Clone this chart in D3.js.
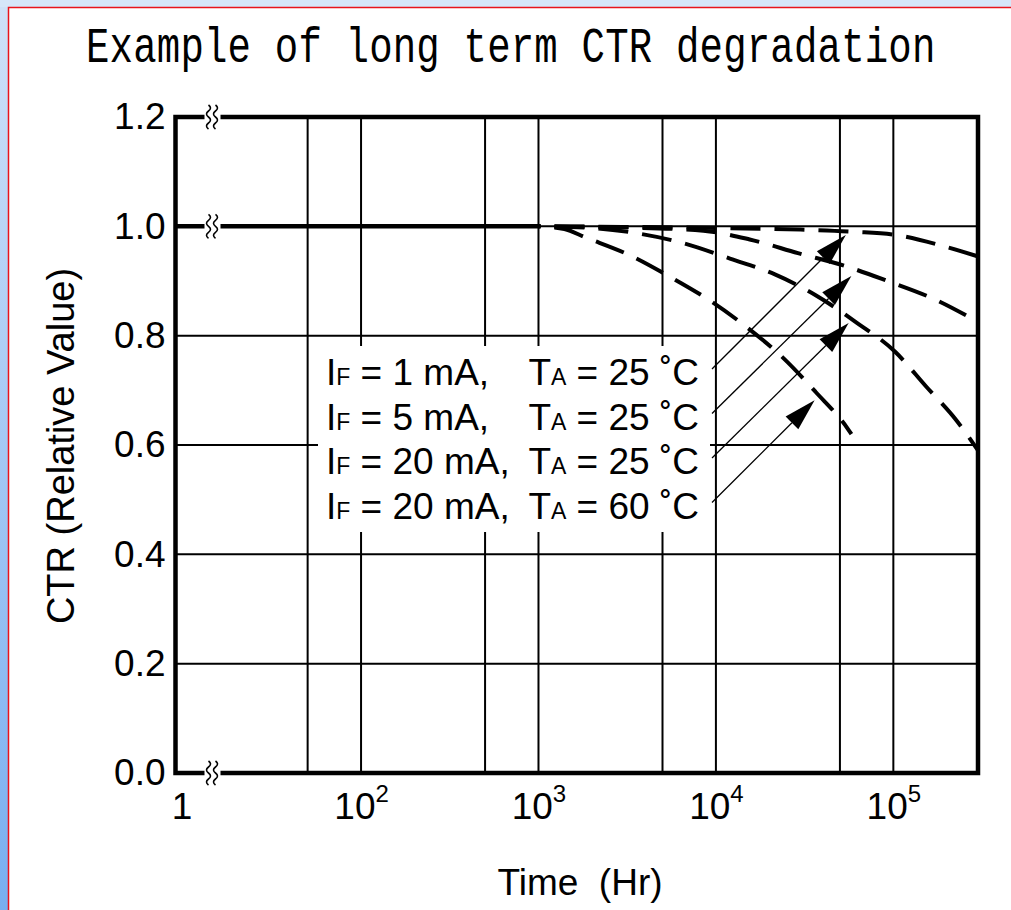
<!DOCTYPE html>
<html lang="en">
<head>
<meta charset="utf-8">
<title>Example of long term CTR degradation</title>
<script src="https://d3js.org/d3.v7.min.js"></script>
<style>
  body { margin: 0; background: #d6e6f9; overflow: hidden; }
  svg { display: block; }
  text { font-family: "Liberation Sans", Arial, sans-serif; fill: #000; }
  text.title { font-family: "Liberation Mono", monospace; }
</style>
</head>
<body>
<script>
// axis ticks and grid
const yTicks = [0, 0.2, 0.4, 0.6, 0.8, 1.0, 1.2]
const xTicks = [1, 1e2, 1e3, 1e4, 1e5]
const xGrid = [50, 1e2, 5e2, 1e3, 5e3, 1e4, 5e4, 1e5]

// no change up to 1000 h
const solidTime = [1, 1000]
const solidCTR = [1.0, 1.0]

// IF = 1 mA, TA = 25 C
const c1Time = [1000, 3000, 1e4, 3e4, 6e4, 1e5, 2e5, 3e5]
const c1CTR = [1.0, 0.999, 0.997, 0.994, 0.99, 0.985, 0.962, 0.945]
// IF = 5 mA, TA = 25 C
const c2Time = [1000, 3000, 8500, 1.55e4, 2.9e4, 5.4e4, 9.1e4, 1.67e5, 3e5]
const c2CTR = [1.0, 0.998, 0.992, 0.976, 0.951, 0.927, 0.901, 0.868, 0.825]
// IF = 20 mA, TA = 25 C
const c3Time = [1000, 2000, 3640, 6600, 1.2e4, 2.15e4, 3.65e4, 6.2e4, 1.02e5, 1.53e5, 2.27e5, 3e5]
const c3CTR = [1.0, 0.997, 0.987, 0.969, 0.941, 0.912, 0.874, 0.824, 0.771, 0.707, 0.645, 0.59]
// IF = 20 mA, TA = 60 C
const c4Time = [1000, 1400, 1830, 3280, 5560, 9380, 1.5e4, 2.4e4, 3.65e4, 5.5e4, 5.8e4]
const c4CTR = [1.0, 0.995, 0.98, 0.947, 0.907, 0.863, 0.815, 0.759, 0.697, 0.631, 0.62]

// legend rows and where their arrows point
const legendCurrent = ["1 mA,", "5 mA,", "20 mA,", "20 mA,"]
const legendTemp = ["25 \u02DAC", "25 \u02DAC", "25 \u02DAC", "60 \u02DAC"]
const arrowTime = [5.4e4, 5.8e4, 5.6e4, 3.6e4]
const arrowCTR = [0.984, 0.909, 0.823, 0.682]

const width = 1011
const height = 910
const plotL = 175.5, plotR = 978, plotT = 117, plotB = 773

const svg = d3.select("body").append("svg")
    .attr("width", width)
    .attr("height", height)

// page frame like the screenshot
const grad = svg.append("defs").append("linearGradient")
    .attr("id", "strip").attr("x1", 0).attr("y1", 0).attr("x2", 0).attr("y2", 1)
grad.append("stop").attr("offset", "0%").attr("stop-color", "#cfe1f8")
grad.append("stop").attr("offset", "100%").attr("stop-color", "#78aef0")
svg.append("rect").attr("width", width).attr("height", height).attr("fill", "#d6e6f9")
svg.append("rect").attr("x", 0).attr("y", 7).attr("width", 8).attr("height", height).attr("fill", "url(#strip)")
svg.append("rect").attr("x", 8).attr("y", 7).attr("width", width).attr("height", height).attr("fill", "#fff")
svg.append("path").attr("d", `M8.5,${height} V7.5 H${width}`)
    .attr("fill", "none").attr("stroke", "#e8141c").attr("stroke-width", 1.5)

// scales: log time axis broken near the origin (label "1" at the left edge)
const x = d3.scaleLog().domain([9, 3e5]).range([plotL, plotR]).clamp(true)
const y = d3.scaleLinear().domain([0, 1.2]).range([plotB, plotT])

// title
svg.append("text")
    .attr("class", "title")
    .attr("transform", "translate(86,62) scale(1,1.3)")
    .attr("font-size", 39)
    .attr("letter-spacing", 0.2)
    .text("Example of long term CTR degradation")

// grid
const grid = svg.append("g").attr("stroke", "#000").attr("stroke-width", 2)
grid.selectAll(".vg").data(xGrid).join("line")
    .attr("x1", d => x(d)).attr("x2", d => x(d))
    .attr("y1", plotT).attr("y2", plotB)
grid.selectAll(".hg").data(yTicks.filter(d => d > 0 && d < 1.2)).join("line")
    .attr("x1", plotL).attr("x2", plotR)
    .attr("y1", d => y(d)).attr("y2", d => y(d))

// legend box hides the grid behind the text
svg.append("rect")
    .attr("x", 318).attr("y", 346)
    .attr("width", 392).attr("height", 186)
    .attr("fill", "#fff")

// frame
svg.append("rect")
    .attr("x", plotL).attr("y", plotT)
    .attr("width", plotR - plotL).attr("height", plotB - plotT)
    .attr("fill", "none").attr("stroke", "#000").attr("stroke-width", 4.5)

// data lines
const line = d3.line()
    .x(d => x(d[0]))
    .y(d => y(d[1]))
    .curve(d3.curveMonotoneX)

svg.append("path")
    .datum(d3.zip(solidTime, solidCTR))
    .attr("d", line)
    .attr("fill", "none").attr("stroke", "#000").attr("stroke-width", 4.5)

const series = [
  d3.zip(c1Time, c1CTR),
  d3.zip(c2Time, c2CTR),
  d3.zip(c3Time, c3CTR),
  d3.zip(c4Time, c4CTR)
]
svg.append("g").selectAll("path").data(series).join("path")
    .attr("d", line)
    .attr("fill", "none")
    .attr("stroke", "#000")
    .attr("stroke-width", 4)
    .attr("stroke-dasharray", "30 14")
    .attr("stroke-dashoffset", -16)

// axis break marks at 1.2, 1.0 and 0.0
const breakX = plotL + 37
const brk = svg.append("g").selectAll("g").data([1.2, 1.0, 0]).join("g")
    .attr("transform", d => `translate(${breakX},${y(d)})`)
brk.append("rect").attr("x", -8).attr("y", -5).attr("width", 16).attr("height", 10).attr("fill", "#fff")
brk.selectAll("path").data([-4, 3]).join("path")
    .attr("d", dx => `M${dx},-12 q4,3 0,6 q-4,3 0,6 q4,3 0,6 q-4,3 0,6`)
    .attr("fill", "none").attr("stroke", "#000").attr("stroke-width", 1.6)

// axes
const yAxis = svg.append("g")
    .attr("transform", `translate(${plotL},0)`)
    .call(d3.axisLeft(y).tickValues(yTicks).tickSize(0).tickPadding(10).tickFormat(d3.format(".1f")))
yAxis.select(".domain").remove()
yAxis.selectAll("text").attr("font-size", 37).attr("font-family", null)

const xAxis = svg.append("g")
    .attr("transform", `translate(0,${plotB})`)
    .call(d3.axisBottom(x).tickValues(xTicks).tickSize(0).tickPadding(20))
xAxis.select(".domain").remove()
xAxis.selectAll(".tick text").attr("font-size", 37).attr("font-family", null)
    .each(function (d) {
      const t = d3.select(this).text(null)
      if (d === 1) { t.attr("dx", 6).text("1"); return }
      t.append("tspan").text("10")
      t.append("tspan").attr("font-size", 24).attr("dy", -17).text(Math.round(Math.log10(d)))
    })

// axis titles
svg.append("text")
    .attr("x", 580).attr("y", 895)
    .attr("text-anchor", "middle")
    .attr("font-size", 37)
    .style("white-space", "pre")
    .text("Time  (Hr)")

svg.append("text")
    .attr("transform", "translate(74,446) rotate(-90)")
    .attr("text-anchor", "middle")
    .attr("font-size", 38)
    .text("CTR (Relative Value)")

// legend text
const rowY = i => 385 + i * 44.5
const rows = svg.append("g").attr("font-size", 37)
legendCurrent.forEach((c, i) => {
  const a = rows.append("text").attr("x", 326).attr("y", rowY(i)).style("white-space", "pre")
  a.append("tspan").text("I")
  a.append("tspan").attr("font-size", 23).text("F")
  a.append("tspan").text(" = " + c)
  const b = rows.append("text").attr("x", 699).attr("y", rowY(i))
      .attr("text-anchor", "end").style("white-space", "pre")
  b.append("tspan").text("T")
  b.append("tspan").attr("font-size", 23).text("A")
  b.append("tspan").text(" = " + legendTemp[i])
})

// leader lines with filled arrowheads
arrowTime.forEach((t, i) => {
  const tx = x(t), ty = y(arrowCTR[i])
  const sx = 712, sy = rowY(i) - 16
  const len = Math.hypot(tx - sx, ty - sy)
  const ux = (tx - sx) / len, uy = (ty - sy) / len
  const bx = tx - ux * 32, by = ty - uy * 32
  svg.append("line")
      .attr("x1", sx).attr("y1", sy).attr("x2", bx).attr("y2", by)
      .attr("stroke", "#000").attr("stroke-width", 1.3)
  svg.append("path")
      .attr("d", `M${tx},${ty} L${bx - uy * 9},${by + ux * 9} L${bx + uy * 9},${by - ux * 9} Z`)
      .attr("fill", "#000")
})
</script>
</body>
</html>
